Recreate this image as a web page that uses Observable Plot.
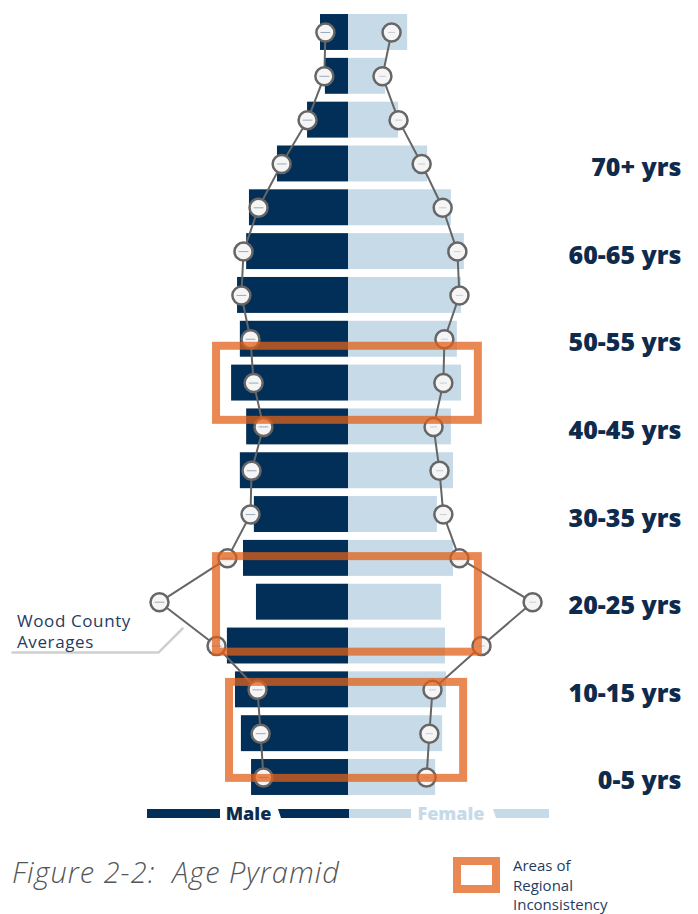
<!DOCTYPE html>
<html>
<head>
<meta charset="utf-8">
<script src="https://cdn.jsdelivr.net/npm/d3@7"></script>
<script src="https://cdn.jsdelivr.net/npm/@observablehq/plot@0.6"></script>
<style>
  html, body { margin: 0; padding: 0; background: #fff; }
  body { width: 698px; height: 914px; position: relative; overflow: hidden; font-family: "Open Sans", sans-serif; }
  #chart { position: absolute; left: 0; top: 0; }
  .abs { position: absolute; }
  .seg { position: absolute; height: 9px; top: 809px; }
</style>
</head>
<body>
<div id="chart"></div>

<div class="abs" style="left:17px; top:610px; font-size:17px; letter-spacing:0.6px; line-height:21px; color:#1f3c64;">Wood County<br>Averages</div>

<!-- Male / Female legend -->
<div class="seg" style="left:147px; width:73px; background:#022f57;"></div>
<div class="abs" style="left:218px; width:61px; top:801px; text-align:center; font-size:18px; font-weight:800; color:#0e2b4d; line-height:24px;">Male</div>
<div class="seg" style="left:275px; width:74px; background:#022f57; clip-path:polygon(3px 0,100% 0,100% 100%,6px 100%);"></div>
<div class="seg" style="left:349px; width:62px; background:#c6dae8;"></div>
<div class="abs" style="left:410px; width:82px; top:801px; text-align:center; font-size:18px; font-weight:800; color:#c6dae8; line-height:24px;">Female</div>
<div class="seg" style="left:490px; width:59px; background:#c6dae8; clip-path:polygon(3px 0,100% 0,100% 100%,6px 100%);"></div>

<div class="abs" style="left:12px; top:852px; font-size:29px; letter-spacing:1px; font-style:italic; font-weight:300; color:#555; white-space:pre;">Figure 2-2:  Age Pyramid</div>

<div class="abs" style="left:453px; top:857px; width:47px; height:36px; box-sizing:border-box; border:8px solid rgba(226,96,25,0.75);"></div>
<div class="abs" style="left:513px; top:856px; font-size:15px; line-height:19.5px; color:#1f3c64;">Areas of<br>Regional<br>Inconsistency</div>

<script>
// Age groups, bottom (youngest) to top
const ageGroups = ["0-5","5-10","10-15","15-20","20-25","25-30","30-35","35-40","40-45","45-50","50-55","55-60","60-65","65-70","70-75","75-80","80-85","85+"];
// Share of population (%), by age group
const male      = [2.77,3.06,3.23,3.46,2.63,3.00,2.69,3.09,2.91,3.34,3.09,3.17,2.91,2.83,2.03,1.17,0.66,0.80];
const female    = [2.49,2.69,2.80,2.77,2.66,3.00,2.54,3.00,2.94,3.23,3.11,3.23,3.31,2.94,2.26,1.43,1.06,1.69];
// Wood County averages (%)
const maleAvg   = [2.43,2.51,2.60,3.77,5.40,3.46,2.80,2.77,2.43,2.71,2.80,3.06,3.00,2.57,1.91,1.17,0.69,0.66];
const femaleAvg = [2.23,2.31,2.40,3.80,5.26,3.17,2.71,2.60,2.43,2.71,2.74,3.17,3.11,2.69,2.09,1.43,0.97,1.23];
// Axis labels shown (every second group)
const axisLabels = ["0-5 yrs","10-15 yrs","20-25 yrs","30-35 yrs","40-45 yrs","50-55 yrs","60-65 yrs","70+ yrs"];
// Areas of regional inconsistency (x in %, y in age-group index units)
const regionX1 = [-3.77,-3.77,-3.40];
const regionX2 = [ 3.71, 3.71, 3.29];
const regionY1 = [ 8.15, 2.86,-0.02];
const regionY2 = [ 9.84, 5.04, 2.17];
// Callout leader for "Wood County Averages"
const calloutX = [-9.6,-5.43,-4.74];
const calloutY = [2.85,2.85,3.40];

const navy = "#022f57", light = "#c6dae8", orange = "#e26019";
const rows = ageGroups.map((g, i) => ({i, g, male: male[i], female: female[i], maleAvg: maleAvg[i], femaleAvg: femaleAvg[i]}));
const labels = axisLabels.map((t, k) => ({i: k * 2, t}));
const regions = regionX1.map((x1, k) => ({x1, x2: regionX2[k], y1: regionY1[k], y2: regionY2[k]}));
const callout = calloutX.map((x, k) => ({x, y: calloutY[k]}));
const half = 0.41;

const chart = Plot.plot({
  width: 698,
  height: 800,
  margin: 0,
  x: {domain: [-9.943, 10], axis: null},
  y: {domain: [-0.525, 17.73], axis: null},
  style: {background: "transparent", overflow: "visible"},
  marks: [
    Plot.rect(rows, {x1: 0, x2: d => -d.male, y1: d => d.i - half, y2: d => d.i + half, fill: navy}),
    Plot.rect(rows, {x1: 0, x2: "female", y1: d => d.i - half, y2: d => d.i + half, fill: light}),
    Plot.line(callout, {x: "x", y: "y", stroke: "#cfcfcf", strokeWidth: 2.5}),
    Plot.line(rows, {x: d => -d.maleAvg, y: "i", stroke: "#666", strokeWidth: 2}),
    Plot.line(rows, {x: "femaleAvg", y: "i", stroke: "#666", strokeWidth: 2}),
    Plot.dot(rows, {x: d => -d.maleAvg, y: "i", r: 9, fill: "#f5f5f5", stroke: "#666", strokeWidth: 2.5}),
    Plot.dot(rows, {x: "femaleAvg", y: "i", r: 9, fill: "#f5f5f5", stroke: "#666", strokeWidth: 2.5}),
    Plot.link(rows, {x1: d => -d.maleAvg - 0.14, x2: d => -d.maleAvg + 0.14, y1: "i", y2: "i", stroke: "#5f7892", strokeWidth: 1, strokeOpacity: 0.6}),
    Plot.link(rows, {x1: d => d.femaleAvg - 0.1, x2: d => d.femaleAvg + 0.1, y1: "i", y2: "i", stroke: "#9aa8b6", strokeWidth: 1, strokeOpacity: 0.5}),
    Plot.rect(regions, {x1: "x1", x2: "x2", y1: "y1", y2: "y2", fill: "none", stroke: orange, strokeWidth: 8, strokeOpacity: 0.75}),
    Plot.text(labels, {y: "i", text: "t", frameAnchor: "right", textAnchor: "end", dx: -17, dy: 4, fontSize: 25, fontWeight: 800, fill: "#0e2b4d", fontFamily: "Open Sans"})
  ]
});
document.getElementById("chart").append(chart);
</script>
</body>
</html>
